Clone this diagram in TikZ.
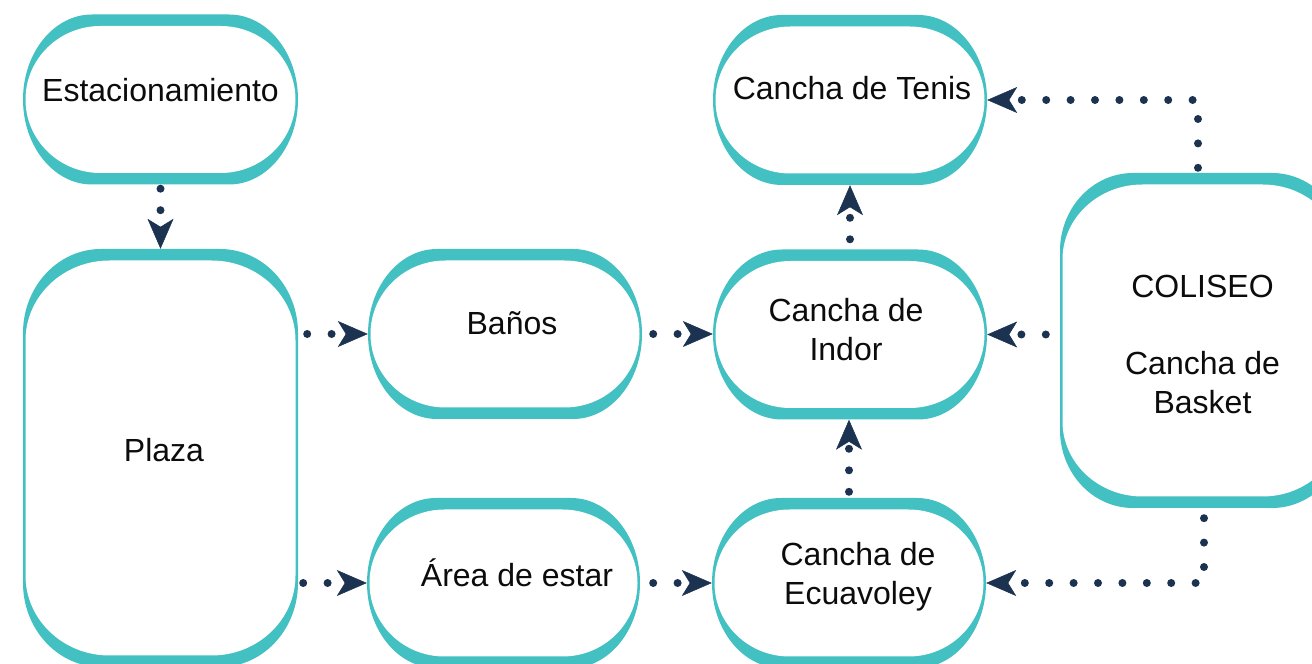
\documentclass[tikz,border=0pt]{standalone}
\usepackage{fontspec}
\setmainfont{Liberation Sans}
\usetikzlibrary{arrows.meta,calc}
\definecolor{tealc}{RGB}{66,192,194}
\definecolor{navy}{RGB}{27,51,80}
\definecolor{txt}{RGB}{12,12,12}
\begin{document}
\begin{tikzpicture}[x=1pt,y=1pt,
  tbox/.style n args={4}{fill=white, inner sep=0pt,
    path picture={
      \fill[tealc] let \p1=(path picture bounding box.south west),
          \p2=(path picture bounding box.north east) in
      ({\x1+#1},\y2) -- ({\x2-#1},\y2)
      arc[start angle=90, end angle=0, x radius=#1, y radius=#2]
      -- (\x2,{\y1+#2})
      arc[start angle=0, end angle=-90, x radius=#1, y radius=#2]
      -- ({\x1+#1},\y1)
      arc[start angle=-90, end angle=-180, x radius=#1, y radius=#2]
      -- (\x1,{\y2-#2})
      arc[start angle=180, end angle=90, x radius=#1, y radius=#2]
      -- cycle;
      \fill[white] let \p1=(path picture bounding box.south west),
          \p2=(path picture bounding box.north east) in
      ({\x1+2.5pt+#3},{\y2-11.5pt}) -- ({\x2-2.5pt-#3},{\y2-11.5pt})
      arc[start angle=90, end angle=0, x radius=#3, y radius=#4]
      -- ({\x2-2.5pt},{\y1+11.5pt+#4})
      arc[start angle=0, end angle=-90, x radius=#3, y radius=#4]
      -- ({\x1+2.5pt+#3},{\y1+11.5pt})
      arc[start angle=-90, end angle=-180, x radius=#3, y radius=#4]
      -- ({\x1+2.5pt},{\y2-11.5pt-#4})
      arc[start angle=180, end angle=90, x radius=#3, y radius=#4]
      -- cycle;}},
  pill/.style={tbox={69pt}{85pt}{75pt}{73.5pt}, minimum width=274, minimum height=170},
  lbl/.style={font=\fontsize{32}{38.7}\selectfont, text=txt, align=center,
    text depth=0pt, inner sep=0pt},
  one/.style={text height=23pt},
  conn/.style={draw=navy, line width=8pt, line cap=round,
    dash pattern=on 0pt off 24.4pt,
    -{Stealth[length=30pt, width=26pt, inset=8pt, line width=0.5pt, navy]}},
  vconn/.style={conn, dash pattern=on 0pt off 21.5pt},
]
\fill[white] (0,0) rectangle (1312,664);
\useasboundingbox (0,0) rectangle (1312,664);

\node[pill, minimum width=275,
  label={[lbl,one,yshift=9]center:Estacionamiento}] (est) at (160.5,564.5) {};
\node[pill,
  label={[lbl,one,xshift=2,yshift=12]center:Cancha de Tenis}] (tenis) at (850,564) {};
\node[pill,
  label={[lbl,one,xshift=7,yshift=10.5]center:Baños}] (banos) at (505,330) {};
\node[pill,
  label={[lbl,xshift=-4,yshift=5]center:{Cancha de\\Indor}}] (indor) at (850,329.5) {};
\node[pill, minimum width=273,
  label={[lbl,one,xshift=13.5,yshift=7.5]center:Área de estar}] (area) at (503.5,81) {};
\node[pill,
  label={[lbl,xshift=9,yshift=9.5]center:{Cancha de\\Ecuavoley}}] (ecua) at (849,81) {};
\node[tbox={78pt}{84pt}{84pt}{80pt}, minimum width=275, minimum height=418,
  label={[lbl,one,xshift=3.5,yshift=7.5]center:Plaza}] (plaza) at (160.5,206) {};
\node[tbox={73pt}{78pt}{80pt}{75pt}, minimum width=285, minimum height=335,
  label={[lbl,yshift=-3.5]center:{COLISEO\\\mbox{}\\Cancha de\\Basket}}] (coliseo) at (1202.5,323.5) {};

\draw[vconn, shorten <=4pt] (est.south) -- (plaza.north);
\draw[conn, shorten <=9pt] (plaza.east |- banos.west) -- (banos.west);
\draw[conn, shorten <=5pt] (plaza.east |- area.west) -- (area.west);
\draw[conn, shorten <=11pt] (banos.east) -- (indor.west |- banos.east);
\draw[conn, shorten <=13pt] (area.east) -- (ecua.west |- area.east);
\draw[vconn, shorten <=6pt] (ecua.north) -- (ecua.north |- indor.south);
\draw[vconn, shorten <=10pt] (indor.north) -- (tenis.south);
\draw[conn, shorten <=14pt] (coliseo.west |- indor.east) -- (indor.east);
\draw[conn, shorten <=5pt] ([xshift=-4.5pt]coliseo.north) |- (tenis.east);
\draw[conn, shorten <=10pt] ([xshift=1.5pt]coliseo.south) |- (ecua.east);
\end{tikzpicture}
\end{document}
